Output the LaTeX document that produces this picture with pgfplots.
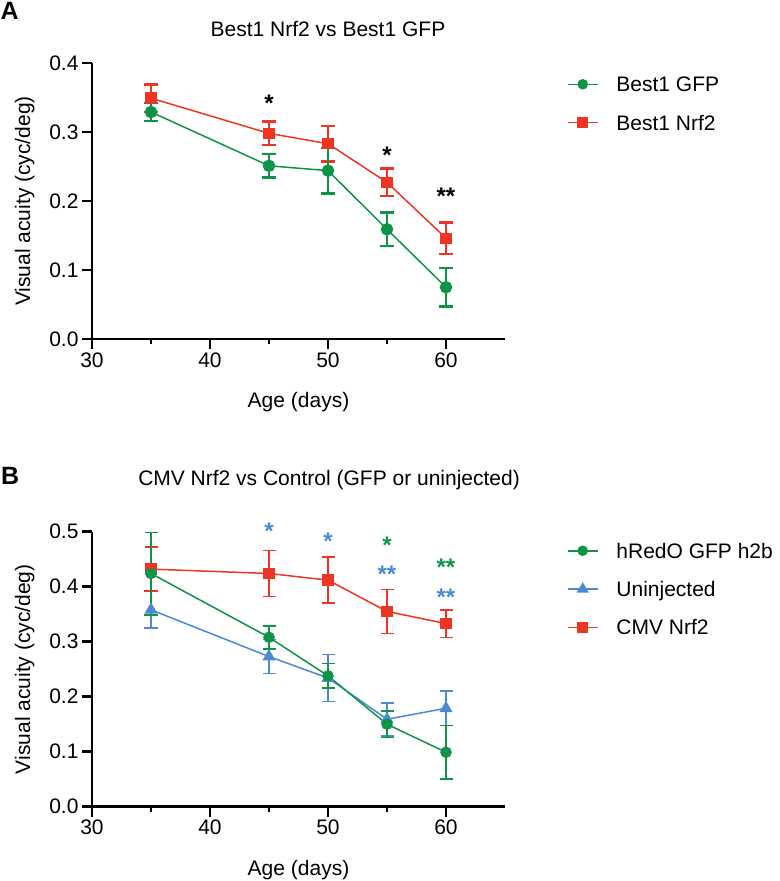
\documentclass[border=0pt]{standalone}
\usepackage{fontspec}
\setmainfont{Liberation Sans}
\usepackage{pgfplots}
\usepackage{pgfplotstable}
\pgfplotsset{compat=1.18}
\definecolor{gfp}{HTML}{0E9447}
\definecolor{nrf}{HTML}{EE3524}
\definecolor{uninj}{HTML}{4A8AD4}
\newcommand{\fs}{\fontsize{21bp}{25bp}\selectfont}
\newcommand{\fstar}{\fontsize{24bp}{26bp}\selectfont\bfseries}

% panel A
\pgfplotstableread{
age va    err
35  0.329 0.013
45  0.251 0.017
50  0.244 0.033
55  0.159 0.024
60  0.075 0.028
}\agfp
\pgfplotstableread{
age va    err
35  0.349 0.020
45  0.298 0.017
50  0.283 0.026
55  0.227 0.020
60  0.146 0.023
}\anrf
% panel B
\pgfplotstableread{
age va    err
35  0.424 0.075
45  0.308 0.021
50  0.238 0.022
55  0.150 0.024
60  0.099 0.049
}\bgfp
\pgfplotstableread{
age va    err
35  0.358 0.033
45  0.273 0.031
50  0.234 0.043
55  0.159 0.030
60  0.179 0.031
}\buninj
\pgfplotstableread{
age va    err
35  0.432 0.040
45  0.424 0.042
50  0.412 0.042
55  0.355 0.040
60  0.333 0.025
}\bnrf

\begin{document}
\begin{tikzpicture}
\useasboundingbox (0,0) rectangle (780bp,881bp);
\pgfplotsset{
  panel/.style={
    scale only axis, width=413bp, xmin=30, xmax=65, ymin=0,
    clip=false,
    axis lines=left, axis line style={-, line width=2.5bp},
    every tick/.style={black, line width=2.5bp},
    tick align=outside, major tick length=10bp, minor tick length=5bp,
    xtick={30,40,50,60}, minor xtick={35,45,55},
    ytick distance=0.1,
    yticklabel style={/pgf/number format/.cd, fixed, fixed zerofill, precision=1},
    tick label style={font=\fs, /pgf/number format/assume math mode=true},
    xlabel={Age (days)}, ylabel={Visual acuity (cyc/deg)},
    every axis x label/.style={at={(axis description cs:0.5,0)}, anchor=base,
      yshift=-69bp, font=\fs},
    every axis y label/.style={at={(axis description cs:-0.163,0.5)},
      rotate=90, anchor=center, font=\fs},
    legend style={draw=none, fill=none, inner sep=0pt, outer sep=0pt,
      row sep=23.3bp, column sep=18bp, font=\fs,
      nodes={inner sep=0pt, text height=15bp, text depth=0bp}},
    legend cell align=left,
    legend image code/.code={
      \draw[mark repeat=2, mark phase=2, ##1] plot coordinates
        {(0bp,0bp) (15bp,0bp) (30bp,0bp)};},
  },
  sA/.style={line width=1.5bp, error bars/.cd, y dir=both, y explicit,
    error bar style={line width=2.5bp},
    error mark options={rotate=90, line width=2.5bp, mark size=7bp}},
  sB/.style={line width=1.5bp, error bars/.cd, y dir=both, y explicit,
    error bar style={line width=1.5bp},
    error mark options={rotate=90, line width=1.5bp, mark size=6.5bp}},
}

% ---- A ----
\node[anchor=base west, inner sep=0pt, font=\fontsize{25bp}{28bp}\selectfont\bfseries]
  at (0.5bp,861bp) {A};
\begin{axis}[panel, at={(92bp,542bp)}, anchor=south west,
  height=276bp, ymax=0.4,
  title={Best1 Nrf2 vs Best1 GFP},
  title style={at={(axis description cs:0.5714,1.0953)}, anchor=base,
    yshift=-6pt, font=\fs},
  legend style={at={(axis description cs:1.150,0.950)}, anchor=north west}]
\addlegendimage{color=gfp, line width=1.5bp, mark=*, mark size=4.5bp}
\addlegendentry{Best1 GFP}
\addlegendimage{color=nrf, line width=1.5bp, mark=square*, mark size=5bp}
\addlegendentry{Best1 Nrf2}
\addplot[color=nrf, mark=square*, mark size=5bp, forget plot, sA]
  table[x=age, y=va, y error=err] {\anrf};
\addplot[color=gfp, mark=*, mark size=5.5bp, forget plot, sA]
  table[x=age, y=va, y error=err] {\agfp};
\node[anchor=base, font=\fstar] at (axis cs:45,0.330) {*};
\node[anchor=base, font=\fstar] at (axis cs:55,0.254) {*};
\node[anchor=base, font=\fstar] at (axis cs:60,0.195) {**};
\end{axis}

% ---- B ----
\node[anchor=base west, inner sep=0pt, font=\fontsize{25bp}{28bp}\selectfont\bfseries]
  at (1bp,396bp) {B};
\begin{axis}[panel, at={(92bp,74.3bp)}, anchor=south west,
  height=275bp, ymax=0.5,
  title={CMV Nrf2 vs Control (GFP or uninjected)},
  title style={at={(axis description cs:0.574,1.1662)}, anchor=base,
    yshift=-6pt, font=\fs},
  legend style={at={(axis description cs:1.150,0.958)}, anchor=north west}]
\addlegendimage{color=gfp, line width=1.5bp, mark=*, mark size=4.5bp}
\addlegendentry{hRedO GFP h2b}
\addlegendimage{color=uninj, line width=1.5bp, mark=triangle*, mark size=5.5bp}
\addlegendentry{Uninjected}
\addlegendimage{color=nrf, line width=1.5bp, mark=square*, mark size=5bp}
\addlegendentry{CMV Nrf2}
\addplot[color=uninj, mark=triangle*, mark size=6bp, forget plot, sB]
  table[x=age, y=va, y error=err] {\buninj};
\addplot[color=nrf, mark=square*, mark size=5bp, forget plot, sB]
  table[x=age, y=va, y error=err] {\bnrf};
\addplot[color=gfp, mark=*, mark size=5bp, forget plot, sB]
  table[x=age, y=va, y error=err] {\bgfp};
\node[anchor=base, font=\fstar, text=uninj] at (axis cs:45,0.4855) {*};
\node[anchor=base, font=\fstar, text=uninj] at (axis cs:50,0.468) {*};
\node[anchor=base, font=\fstar, text=gfp] at (axis cs:55,0.461) {*};
\node[anchor=base, font=\fstar, text=uninj] at (axis cs:55,0.4085) {**};
\node[anchor=base, font=\fstar, text=gfp] at (axis cs:60,0.4195) {**};
\node[anchor=base, font=\fstar, text=uninj] at (axis cs:60,0.366) {**};
\end{axis}
\end{tikzpicture}
\end{document}
